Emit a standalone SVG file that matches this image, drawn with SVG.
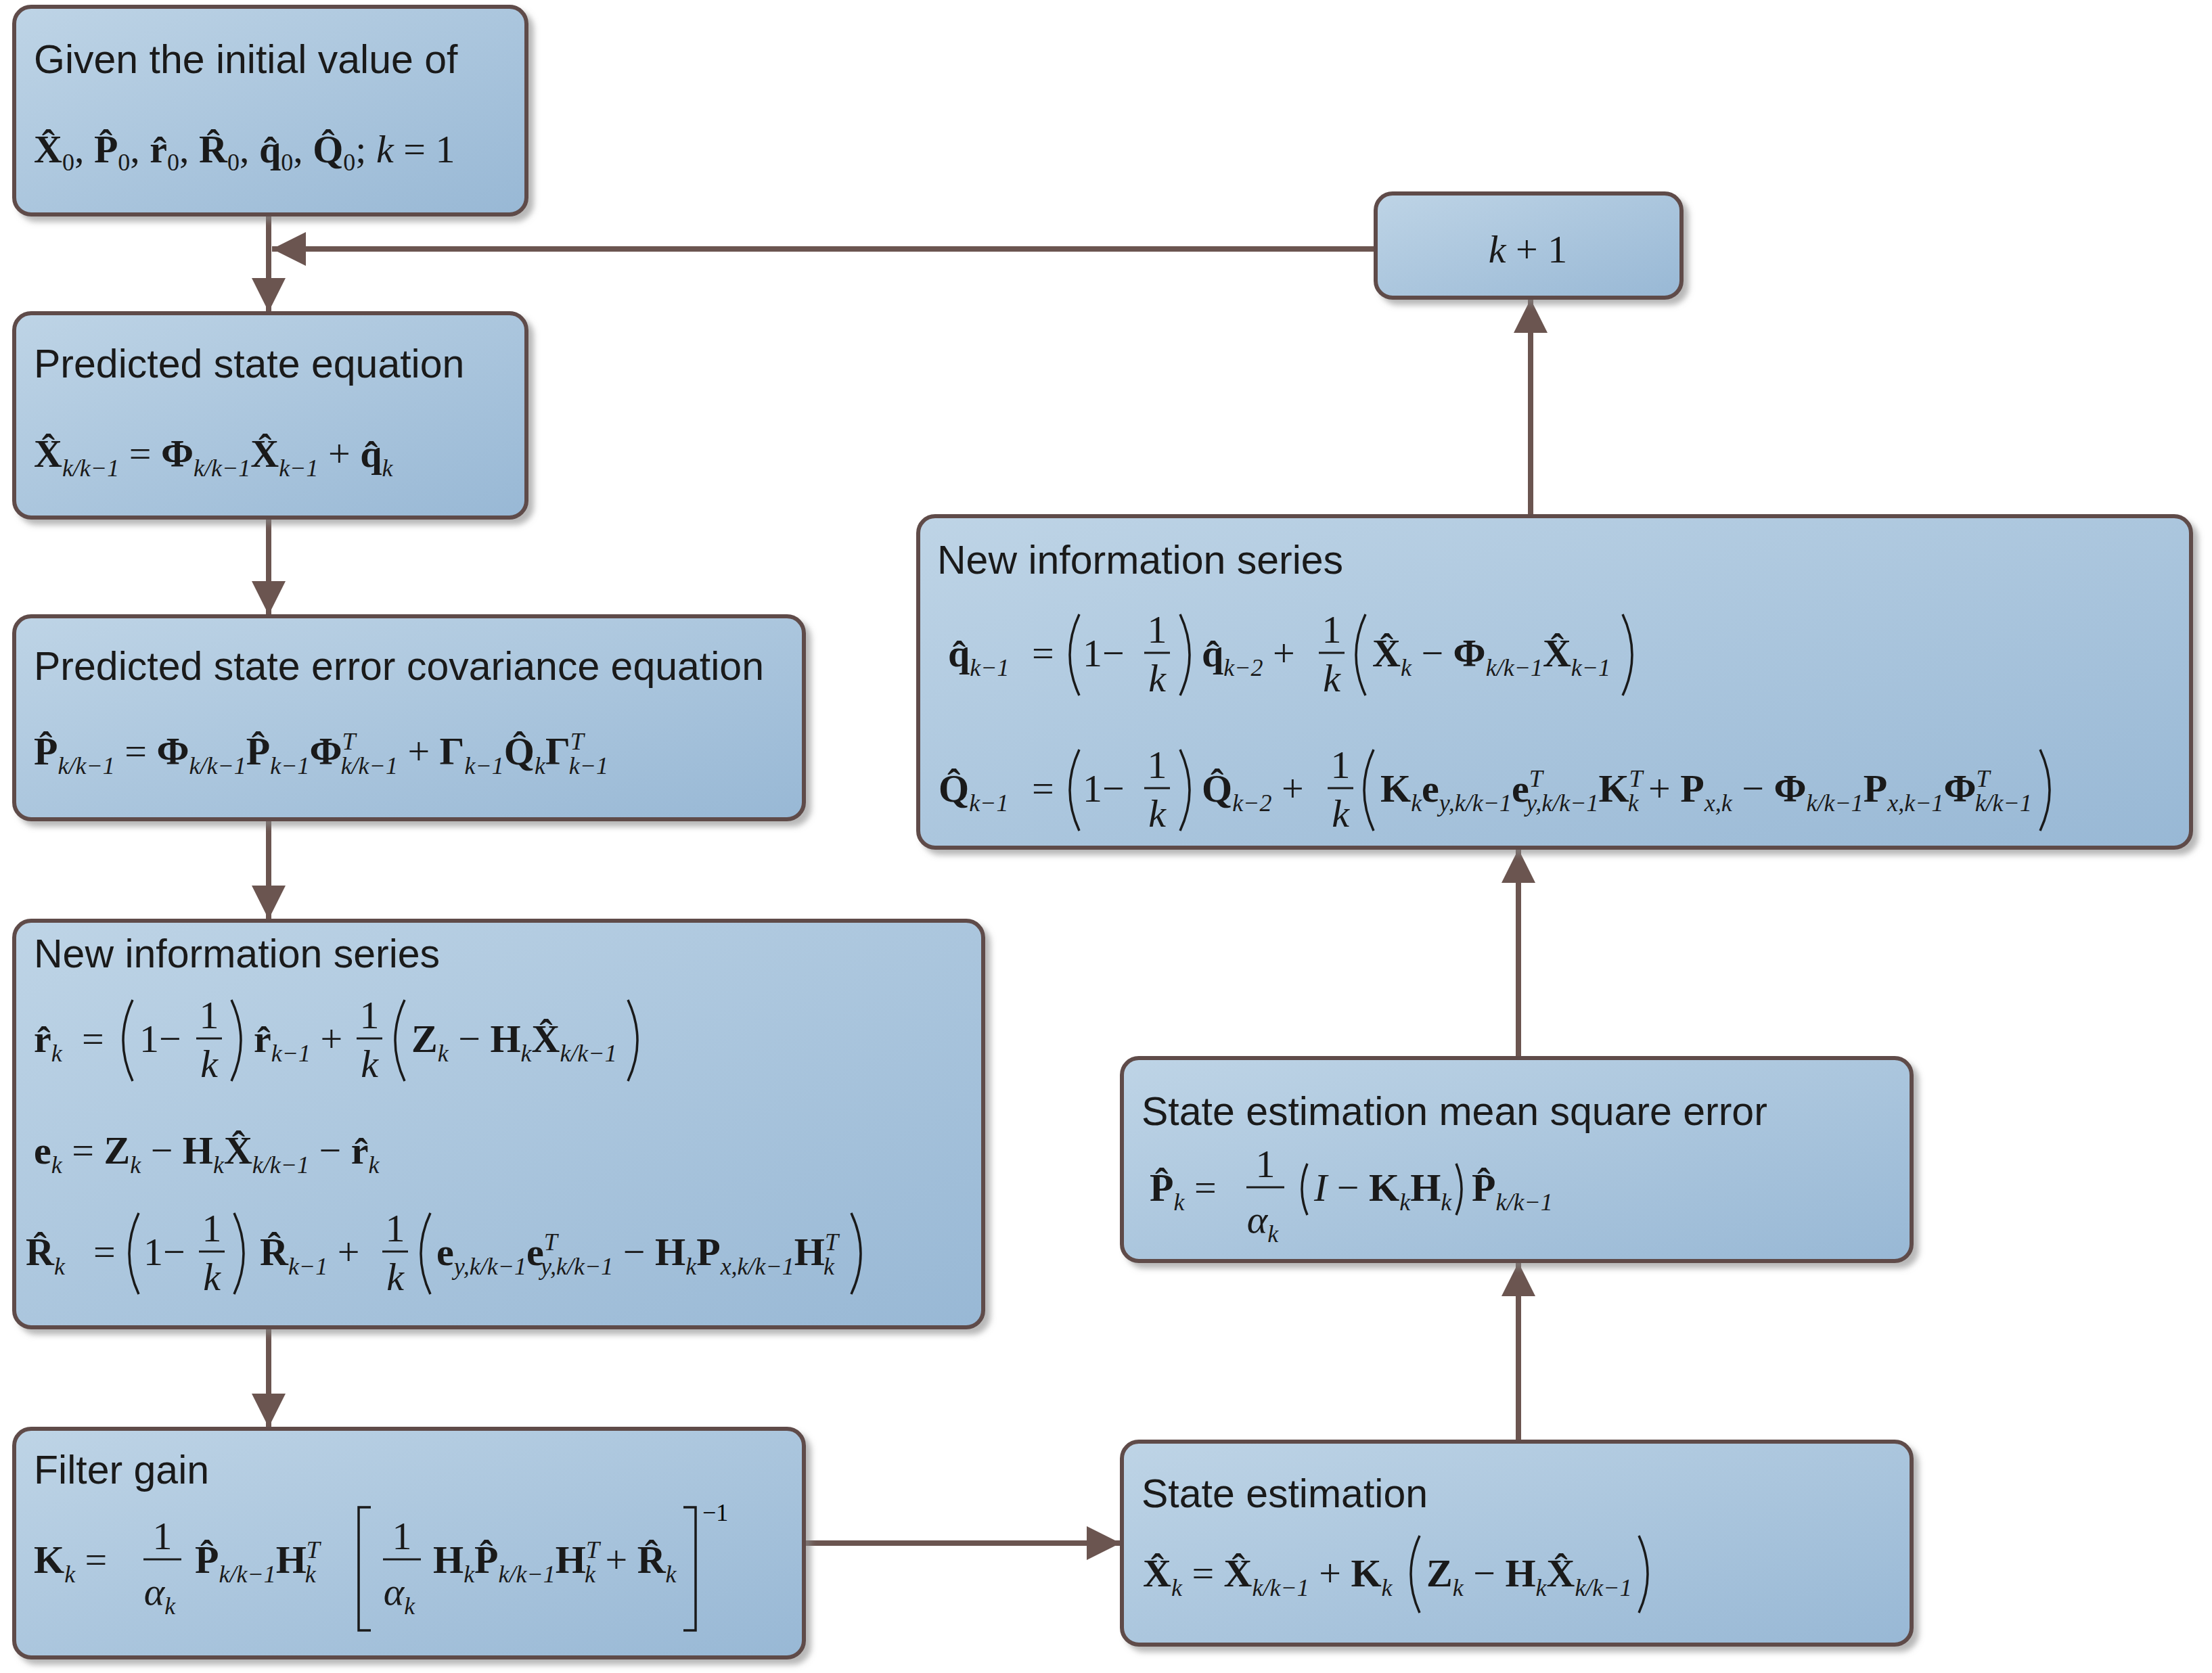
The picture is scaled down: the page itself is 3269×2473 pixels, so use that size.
<svg xmlns="http://www.w3.org/2000/svg" width="3269" height="2473" viewBox="0 0 3269 2473">
<defs>
<linearGradient id="g" x1="0" y1="0" x2="1" y2="1">
<stop offset="0" stop-color="#bed4e6"/><stop offset="1" stop-color="#98b8d5"/>
</linearGradient>
<marker id="ah" markerUnits="userSpaceOnUse" markerWidth="60" markerHeight="60" refX="50" refY="25" orient="auto">
<path d="M0,0 L50,25 L0,50 Z" fill="#6b5550"/>
</marker>
<filter id="sh" x="-5%" y="-5%" width="115%" height="125%"><feDropShadow dx="8" dy="8" stdDeviation="4" flood-color="#888" flood-opacity="0.6"/></filter>
</defs>
<style>
.b{fill:url(#g);stroke:#5e4b48;stroke-width:6;filter:url(#sh)}
.t{font-family:"Liberation Sans",Arial,sans-serif;font-size:59px;fill:#1a1a1a}
.m{font-family:"Liberation Serif","Times New Roman",serif;font-weight:bold;font-size:58px;fill:#1a1a1a}
.n{font-weight:normal}
.it{font-style:italic;font-weight:normal}
.sb{font-size:36px;font-style:italic;font-weight:normal}
.su{font-size:36px;font-weight:normal}
.pp{fill:none;stroke:#1a1a1a;stroke-width:3.5}
.fl{stroke:#1a1a1a;stroke-width:3}
.c{fill:none;stroke:#6b5550;stroke-width:8;marker-end:url(#ah)}
</style>
<rect width="3269" height="2473" fill="#fff"/>

<g id="connectors">
<line class="c" x1="397" y1="317" x2="397" y2="461"/>
<line class="c" x1="2033" y1="368" x2="402" y2="368"/>
<line class="c" x1="397" y1="765" x2="397" y2="909"/>
<line class="c" x1="397" y1="1211" x2="397" y2="1359"/>
<line class="c" x1="397" y1="1962" x2="397" y2="2110"/>
<line class="c" x1="1188" y1="2281" x2="1656" y2="2281"/>
<line class="c" x1="2244" y1="2131" x2="2244" y2="1866"/>
<line class="c" x1="2244" y1="1564" x2="2244" y2="1255"/>
<line class="c" x1="2262" y1="763" x2="2262" y2="442"/>
</g>

<g id="n1">
<rect class="b" x="21" y="10" width="757" height="307" rx="25"/>
<text class="t" x="50" y="108">Given the initial value of</text>
<text class="m" x="50" y="240">X̂<tspan class="su" dy="12">0</tspan><tspan class="n" dy="-12">, </tspan>P̂<tspan class="su" dy="12">0</tspan><tspan class="n" dy="-12">, </tspan>r̂<tspan class="su" dy="12">0</tspan><tspan class="n" dy="-12">, </tspan>R̂<tspan class="su" dy="12">0</tspan><tspan class="n" dy="-12">, </tspan>q̂<tspan class="su" dy="12">0</tspan><tspan class="n" dy="-12">, </tspan>Q̂<tspan class="su" dy="12">0</tspan><tspan class="n" dy="-12">; </tspan><tspan class="it">k</tspan><tspan class="n"> = 1</tspan></text>
</g>

<g id="n2">
<rect class="b" x="21" y="463" width="757" height="302" rx="25"/>
<text class="t" x="50" y="558">Predicted state equation</text>
<text class="m" x="50" y="690">X̂<tspan class="sb" dy="14">k/k−1</tspan><tspan class="n" dy="-14"> = </tspan>Φ<tspan class="sb" dy="14">k/k−1</tspan><tspan dy="-14">X̂</tspan><tspan class="sb" dy="14">k−1</tspan><tspan class="n" dy="-14"> + </tspan>q̂<tspan class="sb" dy="14">k</tspan></text>
</g>

<g id="n3">
<rect class="b" x="21" y="911" width="1167" height="300" rx="25"/>
<text class="t" x="50" y="1005">Predicted state error covariance equation</text>
<text class="m" x="50" y="1130">P̂<tspan class="sb" dy="14">k/k−1</tspan><tspan class="n" dy="-14"> = </tspan>Φ<tspan class="sb" dy="14">k/k−1</tspan><tspan dy="-14">P̂</tspan><tspan class="sb" dy="14">k−1</tspan><tspan dy="-14">Φ</tspan><tspan class="sb" dy="-22">T</tspan><tspan class="sb" dx="-22" dy="36">k/k−1</tspan><tspan class="n" dy="-14"> + </tspan>Γ<tspan class="sb" dy="14">k−1</tspan><tspan dy="-14">Q̂</tspan><tspan class="sb" dy="14">k</tspan><tspan dy="-14">Γ</tspan><tspan class="sb" dy="-22">T</tspan><tspan class="sb" dx="-22" dy="36">k−1</tspan></text>
</g>

<g id="n4">
<rect class="b" x="21" y="1361" width="1432" height="601" rx="25"/>
<text class="t" x="50" y="1430">New information series</text>
<text class="m" x="50" y="1555">r̂<tspan class="sb" dy="14">k</tspan></text>
<text class="m n" x="121" y="1555">=</text>
<path class="pp" d="M196,1478 Q168,1538 196,1598"/>
<text class="m n" x="206" y="1555">1−</text>
<text class="m n" x="309" y="1520" text-anchor="middle">1</text><line class="fl" x1="290" y1="1535" x2="328" y2="1535"/><text class="m it" x="309" y="1592" text-anchor="middle">k</text>
<path class="pp" d="M342,1478 Q370,1538 342,1598"/>
<text class="m" x="375" y="1555">r̂<tspan class="sb" dy="14">k−1</tspan><tspan class="n" dy="-14"> +</tspan></text>
<text class="m n" x="546" y="1520" text-anchor="middle">1</text><line class="fl" x1="527" y1="1535" x2="565" y2="1535"/><text class="m it" x="546" y="1592" text-anchor="middle">k</text>
<path class="pp" d="M598,1478 Q570,1538 598,1598"/>
<text class="m" x="608" y="1555">Z<tspan class="sb" dy="14">k</tspan><tspan class="n" dy="-14"> − </tspan>H<tspan class="sb" dy="14">k</tspan><tspan dy="-14">X̂</tspan><tspan class="sb" dy="14">k/k−1</tspan></text>
<path class="pp" d="M928,1478 Q956,1538 928,1598"/>

<text class="m" x="50" y="1720">e<tspan class="sb" dy="14">k</tspan><tspan class="n" dy="-14"> = </tspan>Z<tspan class="sb" dy="14">k</tspan><tspan class="n" dy="-14"> − </tspan>H<tspan class="sb" dy="14">k</tspan><tspan dy="-14">X̂</tspan><tspan class="sb" dy="14">k/k−1</tspan><tspan class="n" dy="-14"> − </tspan>r̂<tspan class="sb" dy="14">k</tspan></text>

<text class="m" x="38" y="1870">R̂<tspan class="sb" dy="14">k</tspan></text>
<text class="m n" x="138" y="1870">=</text>
<path class="pp" d="M205,1793 Q177,1853 205,1913"/>
<text class="m n" x="212" y="1870">1−</text>
<text class="m n" x="313" y="1835" text-anchor="middle">1</text><line class="fl" x1="294" y1="1850" x2="332" y2="1850"/><text class="m it" x="313" y="1907" text-anchor="middle">k</text>
<path class="pp" d="M346,1793 Q374,1853 346,1913"/>
<text class="m" x="384" y="1870">R̂<tspan class="sb" dy="14">k−1</tspan><tspan class="n" dy="-14"> +</tspan></text>
<text class="m n" x="584" y="1835" text-anchor="middle">1</text><line class="fl" x1="565" y1="1850" x2="603" y2="1850"/><text class="m it" x="584" y="1907" text-anchor="middle">k</text>
<path class="pp" d="M636,1793 Q608,1853 636,1913"/>
<text class="m" x="645" y="1870">e<tspan class="sb" dy="14">y,k/k−1</tspan><tspan dy="-14">e</tspan><tspan class="sb" dy="-22">T</tspan><tspan class="sb" dx="-22" dy="36">y,k/k−1</tspan><tspan class="n" dy="-14"> − </tspan>H<tspan class="sb" dy="14">k</tspan><tspan dy="-14">P</tspan><tspan class="sb" dy="14">x,k/k−1</tspan><tspan dy="-14">H</tspan><tspan class="sb" dy="-22">T</tspan><tspan class="sb" dx="-22" dy="36">k</tspan></text>
<path class="pp" d="M1258,1793 Q1286,1853 1258,1913"/>
</g>

<g id="n5">
<rect class="b" x="21" y="2112" width="1167" height="338" rx="25"/>
<text class="t" x="50" y="2193">Filter gain</text>
<text class="m" x="50" y="2325">K<tspan class="sb" dy="14">k</tspan><tspan class="n" dy="-14"> =</tspan></text>
<text class="m n" x="240" y="2290" text-anchor="middle">1</text><line class="fl" x1="212" y1="2305" x2="268" y2="2305"/><text class="m it" x="236" y="2372" text-anchor="middle">α<tspan class="sb" dy="14">k</tspan></text>
<text class="m" x="288" y="2325">P̂<tspan class="sb" dy="14">k/k−1</tspan><tspan dy="-14">H</tspan><tspan class="sb" dy="-22">T</tspan><tspan class="sb" dx="-22" dy="36">k</tspan></text>
<path class="pp" d="M548,2228 L530,2228 L530,2410 L548,2410"/>
<text class="m n" x="594" y="2290" text-anchor="middle">1</text><line class="fl" x1="566" y1="2305" x2="622" y2="2305"/><text class="m it" x="590" y="2372" text-anchor="middle">α<tspan class="sb" dy="14">k</tspan></text>
<text class="m" x="640" y="2325">H<tspan class="sb" dy="14">k</tspan><tspan dy="-14">P̂</tspan><tspan class="sb" dy="14">k/k−1</tspan><tspan dy="-14">H</tspan><tspan class="sb" dy="-22">T</tspan><tspan class="sb" dx="-22" dy="36">k</tspan><tspan class="n" dy="-14"> + </tspan>R̂<tspan class="sb" dy="14">k</tspan></text>
<path class="pp" d="M1010,2228 L1028,2228 L1028,2410 L1010,2410"/>
<text class="su" x="1038" y="2248" style="font-family:'Liberation Serif',serif">−1</text>
</g>

<g id="n6">
<rect class="b" x="1658" y="2131" width="1167" height="300" rx="25"/>
<text class="t" x="1687" y="2228">State estimation</text>
<text class="m" x="1689" y="2345">X̂<tspan class="sb" dy="14">k</tspan><tspan class="n" dy="-14"> = </tspan>X̂<tspan class="sb" dy="14">k/k−1</tspan><tspan class="n" dy="-14"> + </tspan>K<tspan class="sb" dy="14">k</tspan></text>
<path class="pp" d="M2098,2270 Q2072,2327 2098,2384"/>
<text class="m" x="2108" y="2345">Z<tspan class="sb" dy="14">k</tspan><tspan class="n" dy="-14"> − </tspan>H<tspan class="sb" dy="14">k</tspan><tspan dy="-14">X̂</tspan><tspan class="sb" dy="14">k/k−1</tspan></text>
<path class="pp" d="M2422,2270 Q2448,2327 2422,2384"/>
</g>

<g id="n7">
<rect class="b" x="1658" y="1564" width="1167" height="300" rx="25"/>
<text class="t" x="1687" y="1663">State estimation mean square error</text>
<text class="m" x="1699" y="1775">P̂<tspan class="sb" dy="14">k</tspan><tspan class="n" dy="-14"> =</tspan></text>
<text class="m n" x="1870" y="1740" text-anchor="middle">1</text><line class="fl" x1="1842" y1="1755" x2="1898" y2="1755"/><text class="m it" x="1866" y="1822" text-anchor="middle">α<tspan class="sb" dy="14">k</tspan></text>
<path class="pp" d="M1932,1720 Q1916,1758 1932,1796"/>
<text class="m" x="1942" y="1775"><tspan class="it">I</tspan><tspan class="n"> − </tspan>K<tspan class="sb" dy="14">k</tspan><tspan dy="-14">H</tspan><tspan class="sb" dy="14">k</tspan></text>
<path class="pp" d="M2152,1720 Q2168,1758 2152,1796"/>
<text class="m" x="2175" y="1775">P̂<tspan class="sb" dy="14">k/k−1</tspan></text>
</g>

<g id="n8">
<rect class="b" x="1357" y="763" width="1881" height="490" rx="25"/>
<text class="t" x="1385" y="848">New information series</text>
<text class="m" x="1401" y="985">q̂<tspan class="sb" dy="14">k−1</tspan></text>
<text class="m n" x="1525" y="985">=</text>
<path class="pp" d="M1595,908 Q1567,968 1595,1028"/>
<text class="m n" x="1600" y="985">1−</text>
<text class="m n" x="1710" y="950" text-anchor="middle">1</text><line class="fl" x1="1691" y1="965" x2="1729" y2="965"/><text class="m it" x="1710" y="1022" text-anchor="middle">k</text>
<path class="pp" d="M1744,908 Q1772,968 1744,1028"/>
<text class="m" x="1776" y="985">q̂<tspan class="sb" dy="14">k−2</tspan><tspan class="n" dy="-14"> +</tspan></text>
<text class="m n" x="1968" y="950" text-anchor="middle">1</text><line class="fl" x1="1949" y1="965" x2="1987" y2="965"/><text class="m it" x="1968" y="1022" text-anchor="middle">k</text>
<path class="pp" d="M2018,908 Q1990,968 2018,1028"/>
<text class="m" x="2028" y="985">X̂<tspan class="sb" dy="14">k</tspan><tspan class="n" dy="-14"> − </tspan>Φ<tspan class="sb" dy="14">k/k−1</tspan><tspan dy="-14">X̂</tspan><tspan class="sb" dy="14">k−1</tspan></text>
<path class="pp" d="M2398,908 Q2426,968 2398,1028"/>

<text class="m" x="1387" y="1185">Q̂<tspan class="sb" dy="14">k−1</tspan></text>
<text class="m n" x="1525" y="1185">=</text>
<path class="pp" d="M1595,1108 Q1567,1168 1595,1228"/>
<text class="m n" x="1600" y="1185">1−</text>
<text class="m n" x="1710" y="1150" text-anchor="middle">1</text><line class="fl" x1="1691" y1="1165" x2="1729" y2="1165"/><text class="m it" x="1710" y="1222" text-anchor="middle">k</text>
<path class="pp" d="M1744,1108 Q1772,1168 1744,1228"/>
<text class="m" x="1776" y="1185">Q̂<tspan class="sb" dy="14">k−2</tspan><tspan class="n" dy="-14"> +</tspan></text>
<text class="m n" x="1981" y="1150" text-anchor="middle">1</text><line class="fl" x1="1962" y1="1165" x2="2000" y2="1165"/><text class="m it" x="1981" y="1222" text-anchor="middle">k</text>
<path class="pp" d="M2030,1108 Q2002,1168 2030,1228"/>
<text class="m" x="2040" y="1185">K<tspan class="sb" dy="14">k</tspan><tspan dy="-14">e</tspan><tspan class="sb" dy="14">y,k/k−1</tspan><tspan dy="-14">e</tspan><tspan class="sb" dy="-22">T</tspan><tspan class="sb" dx="-22" dy="36">y,k/k−1</tspan><tspan dy="-14">K</tspan><tspan class="sb" dy="-22">T</tspan><tspan class="sb" dx="-22" dy="36">k</tspan><tspan class="n" dy="-14"> + </tspan>P<tspan class="sb" dy="14">x,k</tspan><tspan class="n" dy="-14"> − </tspan>Φ<tspan class="sb" dy="14">k/k−1</tspan><tspan dy="-14">P</tspan><tspan class="sb" dy="14">x,k−1</tspan><tspan dy="-14">Φ</tspan><tspan class="sb" dy="-22">T</tspan><tspan class="sb" dx="-22" dy="36" font-size="26">k/k−1</tspan></text>
<path class="pp" d="M3015,1108 Q3043,1168 3015,1228"/>
</g>

<g id="n9">
<rect class="b" x="2033" y="286" width="452" height="154" rx="25"/>
<text class="m n" x="2258" y="388" text-anchor="middle"><tspan class="it">k</tspan> + 1</text>
</g>
</svg>
